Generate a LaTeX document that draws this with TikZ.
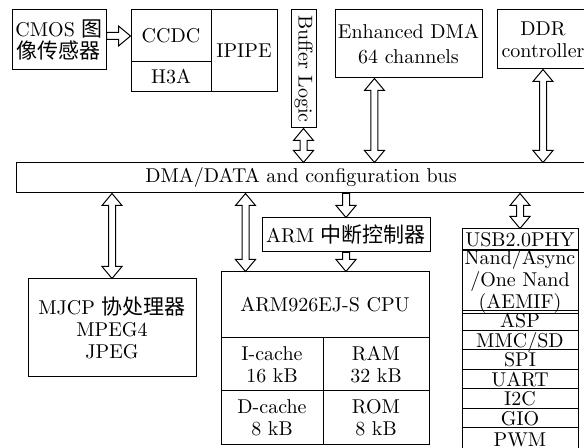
\documentclass[tikz,border=0pt]{standalone}
\usepackage{fontspec}
\newfontfamily\cjk[Scale=1.05]{Noto Sans CJK SC}
\usetikzlibrary{calc}

% Hollow block arrows, heads at both ends or at the end only.
\newcommand{\biarrow}[2]{%
  \path #1 coordinate (ba-s) #2 coordinate (ba-e);
  \path ($(ba-s)!6pt!(ba-e)$) coordinate (ba-a)
        ($(ba-e)!6pt!(ba-s)$) coordinate (ba-b);
  \draw[hollowarrow]
    (ba-s) -- ($(ba-a)!5pt!90:(ba-e)$) -- ($(ba-a)!1.75pt!90:(ba-e)$)
    -- ($(ba-b)!1.75pt!-90:(ba-s)$) -- ($(ba-b)!5pt!-90:(ba-s)$)
    -- (ba-e) -- ($(ba-b)!5pt!90:(ba-s)$) -- ($(ba-b)!1.75pt!90:(ba-s)$)
    -- ($(ba-a)!1.75pt!-90:(ba-e)$) -- ($(ba-a)!5pt!-90:(ba-e)$) -- cycle;
}
\newcommand{\onearrow}[2]{%
  \path #1 coordinate (oa-s) #2 coordinate (oa-e);
  \path ($(oa-e)!6pt!(oa-s)$) coordinate (oa-b);
  \draw[hollowarrow]
    ($(oa-s)!1.75pt!90:(oa-e)$) -- ($(oa-b)!1.75pt!-90:(oa-s)$)
    -- ($(oa-b)!5pt!-90:(oa-s)$) -- (oa-e) -- ($(oa-b)!5pt!90:(oa-s)$)
    -- ($(oa-b)!1.75pt!90:(oa-s)$) -- ($(oa-s)!1.75pt!-90:(oa-e)$) -- cycle;
}

\begin{document}
\begin{tikzpicture}[x=0.5pt, y=-0.5pt,
  box/.style={draw, line width=0.5pt, inner sep=0pt, align=center,
    font=\fontsize{10}{11}\selectfont},
  stackrow/.style={box, minimum width=58pt, minimum height=9.75pt,
    text height=6.8pt, text depth=0pt, font=\fontsize{10}{9}\selectfont},
  hollowarrow/.style={draw, fill=white, line width=0.5pt}]

  \useasboundingbox (0,0) rectangle (584,448);

  % Sensor input and the video front end.
  \node[box, minimum width=47pt, minimum height=30pt] (cmos) at (59,40)
    {CMOS {\cjk 图}\\{\cjk 像传感器}};
  \node[box, minimum width=40pt, minimum height=26pt] (ccdc) at (171,36) {CCDC};
  \node[box, minimum width=40pt, minimum height=15pt] (hthreea) at (171,77) {H3A};
  \node[box, minimum width=33pt, minimum height=41pt] (ipipe) at (244,51) {IPIPE};
  \onearrow{(cmos.east |- ccdc.west)}{(ccdc.west)}

  % Blocks above the bus.
  \node[box, rotate=-90, minimum width=59pt, minimum height=12.5pt] (buffer)
    at (303.5,69) {Buffer Logic};
  \node[box, minimum width=73.5pt, minimum height=34pt,
    font=\fontsize{10}{12.5}\selectfont] (edma) at (408.5,44)
    {Enhanced DMA\\64 channels};
  \node[box, minimum width=46pt, minimum height=29.5pt] (ddr) at (543,39.5)
    {DDR\\controller};

  % System bus.
  \node[box, minimum width=285pt, minimum height=15pt] (bus) at (301,178)
    {DMA/DATA and configuration bus};

  % Coprocessor, interrupt controller and ARM core.
  \node[box, minimum width=84pt, minimum height=49pt] (mjcp) at (112,328)
    {MJCP {\cjk 协处理器}\\MPEG4\\JPEG};
  \node[box, minimum width=84pt, minimum height=17pt] (armint) at (346,235)
    {ARM {\cjk 中断控制器}};
  \node[box, minimum width=104pt, minimum height=33pt] (cpu) at (325,305)
    {ARM926EJ-S CPU};
  \node[box, minimum width=51pt, minimum height=26.5pt] (icache) at (272,364.5)
    {I-cache\\16 kB};
  \node[box, minimum width=53pt, minimum height=26.5pt] (ram) at (376,364.5)
    {RAM\\32 kB};
  \node[box, minimum width=51pt, minimum height=27pt] (dcache) at (272,418)
    {D-cache\\8 kB};
  \node[box, minimum width=53pt, minimum height=27pt] (rom) at (376,418)
    {ROM\\8 kB};

  % Peripheral stack on the right.
  \node[stackrow, minimum height=11pt] (usb) at (520,240) {USB2.0PHY};
  \node[box, minimum width=58pt, minimum height=29pt,
    font=\fontsize{10}{9}\selectfont] (nand) at (520,282)
    {Nand/Async\\/One Nand\\(AEMIF)};
  \foreach \lbl [count=\i] in {ASP, MMC/SD, SPI, UART, I2C, GIO}
    \node[stackrow] (io\i) at (520,301.25+19.5*\i) {\lbl};
  \node[stackrow, minimum height=12pt] (pwm) at (520,440) {PWM};

  % Connections to the bus.
  \coordinate (edmaport) at ($(edma.south west)!0.27!(edma.south east)$);
  \coordinate (cpuport) at ([xshift=12.5pt]cpu.north west);
  \biarrow{(buffer.east)}{(buffer.east |- bus.north)}
  \biarrow{(edmaport)}{(edmaport |- bus.north)}
  \biarrow{(ddr.south)}{(ddr.south |- bus.north)}
  \biarrow{(mjcp.north |- bus.south)}{(mjcp.north)}
  \biarrow{(cpuport |- bus.south)}{(cpuport)}
  \onearrow{(armint.north |- bus.south)}{(armint.north)}
  \onearrow{(armint.south)}{(armint.south |- cpu.north)}
  \biarrow{(usb.north |- bus.south)}{(usb.north)}

\end{tikzpicture}
\end{document}
